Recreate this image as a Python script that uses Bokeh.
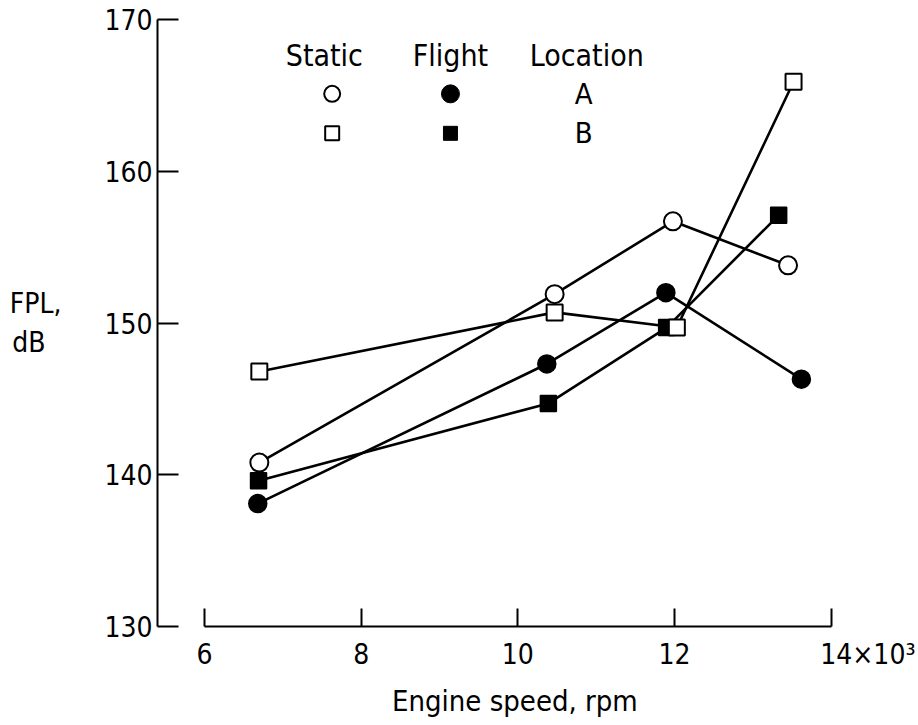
from bokeh.plotting import figure
from bokeh.models import Range1d, Label, FixedTicker
from bokeh.embed import file_html
from bokeh.resources import INLINE

# ---- data (engine speed in thousands of rpm, FPL in dB) ----
static_a_x = [6.70, 10.47, 11.98, 13.45]
static_a_y = [140.8, 151.9, 156.7, 153.8]
flight_a_x = [6.68, 10.37, 11.89, 13.62]
flight_a_y = [138.1, 147.3, 152.0, 146.3]
static_b_x = [6.70, 10.47, 12.03, 13.52]
static_b_y = [146.8, 150.7, 149.7, 165.9]
flight_b_x = [6.69, 10.39, 11.90, 13.33]
flight_b_y = [139.6, 144.7, 149.7, 157.1]

x_ticks = [6, 8, 10, 12, 14]
x_tick_labels = ["6", "8", "10", "12", "\u00a0" * 10 + "14\u00d710\u00b3"]
y_ticks = [130, 140, 150, 160, 170]
legend_headers = ["Static", "Flight", "Location"]
legend_rows = ["A", "B"]

FONT = "DejaVu Sans Condensed, Liberation Sans"

p = figure(width=915, height=723, output_backend="svg", toolbar_location=None,
           x_range=Range1d(5.40, 14.63), y_range=Range1d(130, 170),
           min_border_left=157, min_border_top=19, min_border_right=35,
           min_border_bottom=97)
p.outline_line_color = None
p.grid.visible = False
p.background_fill_color = "white"
p.border_fill_color = "white"

# axes
xa = p.xaxis[0]
xa.bounds = (6, 14)
xa.ticker = FixedTicker(ticks=x_ticks)
xa.major_label_overrides = dict(zip(x_ticks, x_tick_labels))
xa.major_tick_in = 18
xa.major_tick_out = 0
xa.minor_tick_line_color = None
xa.axis_line_width = 2
xa.major_tick_line_width = 2
xa.axis_line_color = "black"
xa.major_tick_line_color = "black"
xa.major_label_text_font = FONT
xa.major_label_text_font_size = "28px"
xa.major_label_text_color = "black"
xa.major_label_standoff = 11
xa.axis_label = "Engine speed,  rpm"
xa.axis_label_text_font = FONT
xa.axis_label_text_font_size = "29px"
xa.axis_label_text_font_style = "normal"
xa.axis_label_text_color = "black"
xa.axis_label_standoff = 10

ya = p.yaxis[0]
ya.bounds = (130, 170)
ya.ticker = FixedTicker(ticks=y_ticks)
ya.major_tick_in = 21
ya.major_tick_out = 0
ya.minor_tick_line_color = None
ya.axis_line_width = 2
ya.major_tick_line_width = 2
ya.axis_line_color = "black"
ya.major_tick_line_color = "black"
ya.major_label_text_font = FONT
ya.major_label_text_font_size = "28px"
ya.major_label_text_color = "black"
ya.major_label_standoff = 5
ya.axis_label = "FPL,\ndB\u00a0\u00a0"
ya.axis_label_orientation = "horizontal"
ya.axis_label_text_font = FONT
ya.axis_label_text_font_size = "28px"
ya.axis_label_text_font_style = "normal"
ya.axis_label_text_color = "black"
ya.axis_label_standoff = 40

# series lines
LW = 2.6
for xs, ys in [(static_a_x, static_a_y), (flight_a_x, flight_a_y),
               (static_b_x, static_b_y), (flight_b_x, flight_b_y)]:
    p.line(xs, ys, line_color="black", line_width=LW)

# markers
p.scatter(flight_b_x, flight_b_y, marker="square", size=16, fill_color="black",
          line_color="black", line_width=1.5)
p.scatter(static_b_x, static_b_y, marker="square", size=16, fill_color="white",
          line_color="black", line_width=2)
p.scatter(flight_a_x, flight_a_y, marker="circle", size=18, fill_color="black",
          line_color="black", line_width=1.5)
p.scatter(static_a_x, static_a_y, marker="circle", size=18, fill_color="white",
          line_color="black", line_width=2)

# legend (key table)
head_x = [7.53, 9.14, 10.88]
head_y = 167.65
for hx, h in zip(head_x, legend_headers):
    p.add_layout(Label(x=hx, y=head_y, text=h, text_align="center",
                       text_baseline="alphabetic", text_font=FONT,
                       text_font_size="30px", text_color="black"))
row_y = [165.1, 162.5]
p.scatter([7.63], [row_y[0]], marker="circle", size=16, fill_color="white",
          line_color="black", line_width=2)
p.scatter([9.14], [row_y[0]], marker="circle", size=18, fill_color="black",
          line_color="black")
p.scatter([7.63], [row_y[1]], marker="square", size=14, fill_color="white",
          line_color="black", line_width=2)
p.scatter([9.14], [row_y[1]], marker="square", size=14, fill_color="black",
          line_color="black")
for ry, r in zip(row_y, legend_rows):
    p.add_layout(Label(x=10.84, y=ry, text=r, text_align="center",
                       text_baseline="middle", text_font=FONT,
                       text_font_size="29px", text_color="black"))

open("out.html", "w").write(file_html(p, INLINE))
